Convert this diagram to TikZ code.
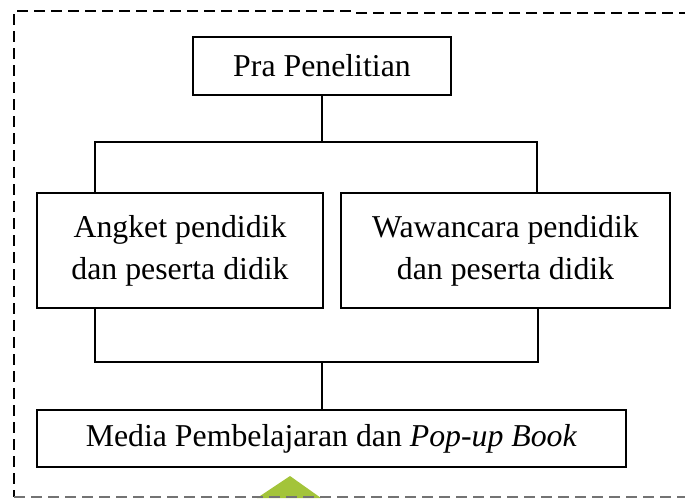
\documentclass[tikz,border=0pt]{standalone}
\usepackage{fontspec}
\setmainfont{Liberation Serif}
\usepackage{xcolor}
\usetikzlibrary{positioning,calc}
\definecolor{arrowgreen}{RGB}{163,196,58}

\begin{document}
\begin{tikzpicture}[x=0.5pt, y=-0.5pt, font=\fontsize{15.9}{21}\selectfont]
    \tikzstyle{stage} = [rectangle, draw=black, line width=0.85pt, align=center, inner sep=0pt]
    \tikzstyle{link} = [draw, line width=0.6pt]
    \tikzstyle{frame} = [draw, line width=1.1pt, dash pattern=on 5.5pt off 3pt]

    \useasboundingbox (0,0) rectangle (685,498);

    % Nodes
    \node [stage, minimum width=129pt, minimum height=29pt] (pra) at (322,66) {Pra Penelitian};
    \node [stage, minimum width=143pt, minimum height=57.5pt] (angket) at (180,250.5) {Angket pendidik\\dan peserta didik};
    \node [stage, minimum width=164.5pt, minimum height=57.5pt] (wawancara) at (505.5,250.5) {Wawancara pendidik\\dan peserta didik};
    \node [stage, minimum width=294.5pt, minimum height=28.5pt] (media) at (331.5,438.5) {Media Pembelajaran dan \textit{Pop-up Book}};

    % Junctions
    \coordinate (topL) at (95,142);
    \coordinate (topR) at (537,142);
    \coordinate (botL) at (95,362);
    \coordinate (botR) at (538,362);
    \coordinate (botC) at (322,362);

    % Edges
    \draw [link] (pra) -- (pra |- topL);
    \draw [link] (topL |- angket.north) -- (topL) -- (topR) -- (topR |- wawancara.north);
    \draw [link] (botL |- angket.south) -- (botL) -- (botR) -- (botR |- wawancara.south);
    \draw [link] (botC) -- (botC |- media.north);

    % Green arrow tip below the frame
    \fill [arrowgreen] (257,498) -- (290,476) -- (321,498) -- cycle;

    % Dashed frame
    \draw [frame] (690,13) -- (355,13) -- (352,11) -- (14,11) -- (14,497);
    \draw [frame, black!55, line width=0.8pt] (14,497) -- (690,497);
\end{tikzpicture}
\end{document}
